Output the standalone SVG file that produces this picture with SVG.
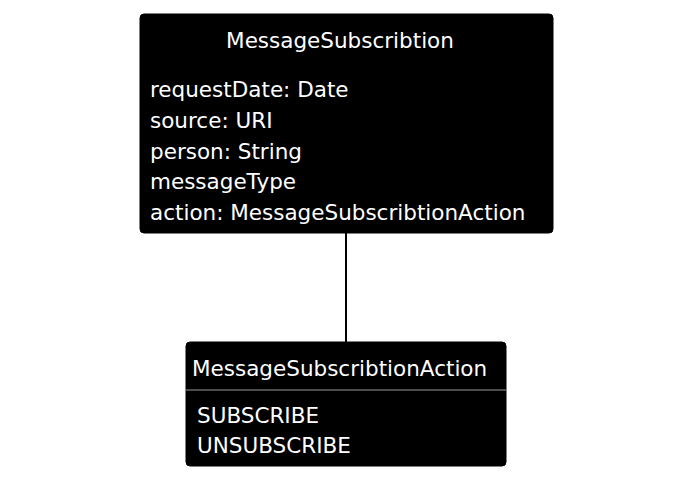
<svg xmlns="http://www.w3.org/2000/svg" width="695" height="492" viewBox="0 0 695 492">
<style>
.box{fill:#000;stroke:#000;}
.t{font-family:"DejaVu Sans",Verdana,sans-serif;font-size:21.5px;fill:#fff;}
.sep{stroke:#999;stroke-width:1;}
.conn{stroke:#000;stroke-width:2;fill:none;}
</style>
<rect width="695" height="492" fill="#fff"/>
<g id="connectors">
<line class="conn" x1="346" y1="233" x2="346" y2="342"/>
</g>
<g id="MessageSubscribtion">
<rect class="box" x="140" y="14" width="413" height="219" rx="4"/>
<text class="t" x="340" y="48" text-anchor="middle">MessageSubscribtion</text>
<text class="t" x="150" y="97">requestDate: Date</text>
<text class="t" x="150" y="128">source: URI</text>
<text class="t" x="150" y="159">person: String</text>
<text class="t" x="150" y="189">messageType</text>
<text class="t" x="150" y="220">action: MessageSubscribtionAction</text>
</g>
<g id="MessageSubscribtionAction">
<rect class="box" x="186" y="342" width="320" height="124" rx="4"/>
<text class="t" x="192" y="376">MessageSubscribtionAction</text>
<line class="sep" x1="186" y1="390" x2="506" y2="390"/>
<text class="t" x="197" y="423">SUBSCRIBE</text>
<text class="t" x="197" y="453">UNSUBSCRIBE</text>
</g>
</svg>
